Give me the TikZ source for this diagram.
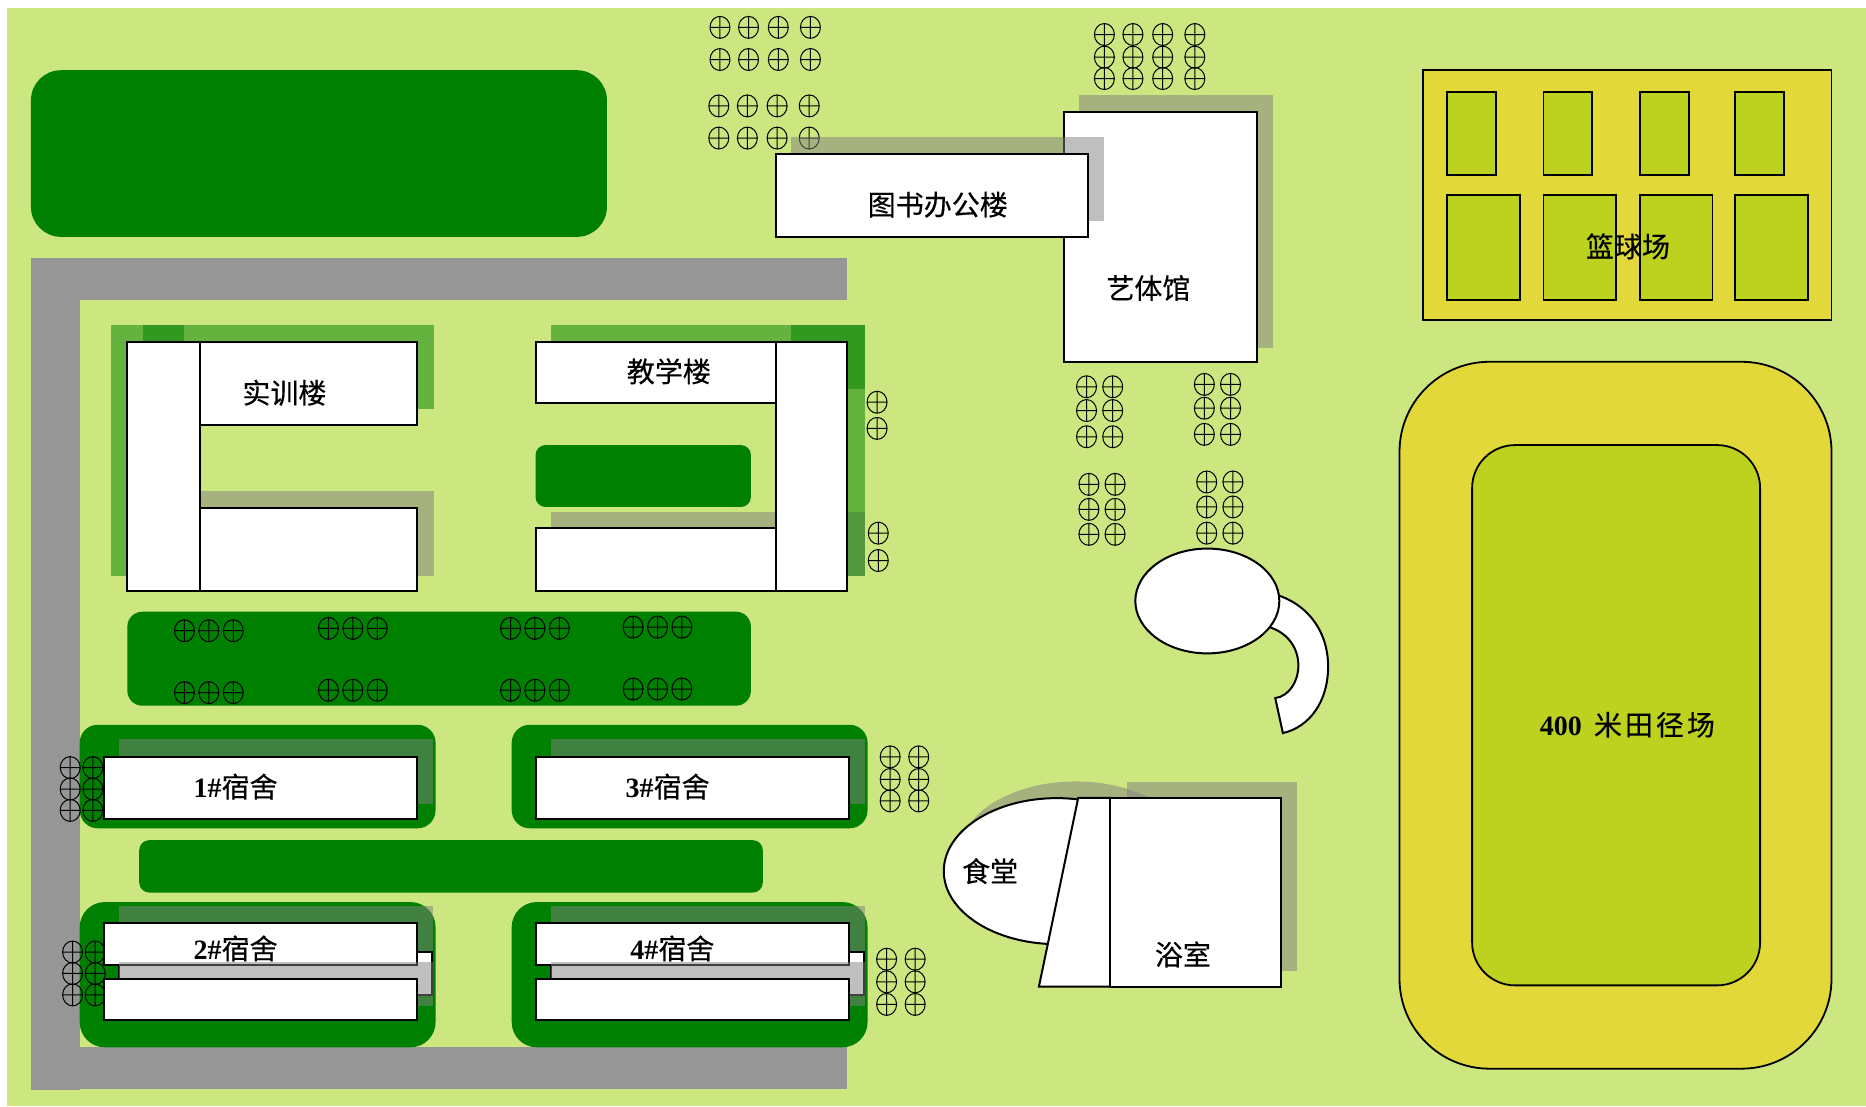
\documentclass[tikz,border=0pt]{standalone}
\usepackage{fontspec}
\setmainfont{Liberation Serif}
\newfontfamily\cjk[FakeBold=.35]{Noto Sans CJK SC}
\usetikzlibrary{positioning}

\definecolor{ground}{HTML}{CCE680}
\definecolor{lawn}{HTML}{008000}
\definecolor{road}{HTML}{969696}
\definecolor{court}{HTML}{E3D83A}
\definecolor{turf}{HTML}{BCD21E}

\tikzset{
	building/.style={draw=black,fill=white,line width=2pt},
	grass/.style={fill=lawn,rounded corners=#1},
	shade gray/.style={fill=black!50,fill opacity=.5},
	shade green/.style={fill=lawn,fill opacity=.5},
	field/.style={draw=black,line width=1.8pt},
	label/.style={font=\fontsize{28}{28}\selectfont\cjk,inner sep=0pt},
	treemark/.pic={
		\draw[line width=1pt] (0,0) ellipse [x radius=10pt,y radius=11pt]
		(-10pt,0) -- (10pt,0) (0,-11pt) -- (0,11pt);
	}
}

\begin{document}
\begin{tikzpicture}[x=1.19005pt,y=-1.19005pt]
	\useasboundingbox (0,0) rectangle (1568,929.4);
	\fill[ground] (6,7) rectangle (1568,929.4);

	% roads and lawns
	\fill[road] (26,217) rectangle (712,252);
	\fill[road] (26,217) rectangle (67,916);
	\fill[road] (67,880) rectangle (712,915);
	\fill[grass=30pt] (26,59) rectangle (510,199);
	\fill[grass=10pt] (450,374) rectangle (631,426);
	\fill[grass=15pt] (107,514) rectangle (631,593);
	\fill[grass=10pt] (117,706) rectangle (641,750);
	\fill[grass=18pt] (67,609) rectangle (366,696);
	\fill[grass=18pt] (430,609) rectangle (729,696);
	\fill[grass=25pt] (67,758) rectangle (366,880);
	\fill[grass=25pt] (430,758) rectangle (729,880);

	% trees
	\foreach \x in {605,629,654,681} {
		\foreach \y in {23,50} \pic at (\x,\y) {treemark};
	}
	\foreach \x in {604,628,653,680} {
		\foreach \y in {89,116} \pic at (\x,\y) {treemark};
	}
	\foreach \x in {928,952,977,1004} {
		\foreach \y in {29,48,66} \pic at (\x,\y) {treemark};
	}
	\foreach \x/\y in {913/325,913/345,913/367,935/325,935/345,935/367,
		1012/323,1012/343,1012/365,1034/323,1034/343,1034/365,
		915/407,915/428,915/449,937/407,937/428,937/449,
		1014/405,1014/426,1014/448,1036/405,1036/426,1036/448,
		737/338,737/360,738/448,738/471} \pic at (\x,\y) {treemark};
	\foreach \x/\y in {155/530,276/528,429/528,532/527} {
		\foreach \i in {0,20.5,41} {
			\pic at (\x+\i,\y) {treemark};
			\pic at (\x+\i,\y+52) {treemark};
		}
	}
	\foreach \x/\y in {59/645,59/663,59/681,78/645,78/663,78/681,
		61/800,61/818,61/836,80/800,80/818,80/836,
		748/636,748/655,748/673,772/636,772/655,772/673,
		745/806,745/825,745/844,769/806,769/825,769/844} \pic at (\x,\y) {treemark};

	% training building
	\fill[shade gray] (155,413) rectangle (365,484);
	\fill[shade green] (93,273) rectangle (155,484);
	\fill[shade green] (120,273) rectangle (365,344);
	\draw[building] (107,287) rectangle (168,497);
	\draw[building] (168,287) rectangle (350,357);
	\draw[building] (168,427) rectangle (350,497);

	% teaching building
	\fill[shade gray] (463,430) rectangle (727,484);
	\fill[shade green] (463,273) rectangle (727,327);
	\fill[shade green] (665,273) rectangle (727,484);
	\draw[building] (450,287) rectangle (652,339);
	\draw[building] (450,444) rectangle (652,497);
	\draw[building] (652,287) rectangle (712,497);

	% dormitories
	\foreach \dx in {0,363} {
		\begin{scope}[xshift=\dx*1.19005pt]
			\fill[shade gray] (100,621) rectangle (364,676);
			\draw[building] (87,636) rectangle (350,688);
			\fill[shade gray] (100,761) rectangle (364,800);
			\draw[building] (100,800) rectangle (363,836);
			\draw[building] (87,776) rectangle (350,811);
			\fill[shade gray] (100,808) rectangle (364,845);
			\draw[building] (87,823) rectangle (350,857);
		\end{scope}
	}

	% art hall and library
	\fill[shade gray] (907,80) rectangle (1070,292);
	\draw[building] (894,94) rectangle (1056,304);
	\fill[shade gray] (665,115) rectangle (928,186);
	\draw[building] (652,129) rectangle (914,199);

	% pond and bridge
	\draw[building] (1066,498) .. controls (1098,505) and (1116,530) .. (1116,560)
		.. controls (1116,590) and (1100,611) .. (1078,616) -- (1071.6,586.6)
		.. controls (1083,585) and (1091,573) .. (1091,559)
		.. controls (1091,543) and (1080,529) .. (1062,526) -- cycle;
	\draw[building] (1014.5,505) ellipse [x radius=72pt,y radius=52.4pt];

	% canteen and bathhouse
	\fill[shade gray] (947,657) rectangle (1090,816);
	\fill[shade gray] (904,718) ellipse [x radius=117pt,y radius=73pt];
	\draw[building] (888,732) ellipse [x radius=113pt,y radius=73pt];
	\draw[building] (906,670.5) -- (934,670.5) -- (934,829) -- (873,829) -- cycle;
	\draw[building] (933,670.5) rectangle (1076,829);

	% basketball courts
	\draw[field,fill=court] (1196,59) rectangle (1539,269);
	\foreach \x in {1216,1297,1378,1458} {
		\draw[field,fill=turf] (\x,77) rectangle (\x+41,147);
		\draw[field,fill=turf] (\x,164) rectangle (\x+61,252);
	}

	% running track
	\draw[field,fill=court,rounded corners=90pt] (1176,304) rectangle (1539,898);
	\draw[field,fill=turf,rounded corners=43pt] (1237,374) rectangle (1479,828);

	\node[label] (training) at (239,330) {实训楼};
	\node[label] (teaching) at (562,312) {教学楼};
	\node[label] (library) at (788,172) {图书办公楼};
	\node[label] (arthall) at (965,242) {艺体馆};
	\node[label] (basket) at (1368,207) {篮球场};
	\node[label] (dorm1) at (198,661) {{\rmfamily\bfseries 1\#}宿舍};
	\node[label] (dorm3) at (561,661) {{\rmfamily\bfseries 3\#}宿舍};
	\node[label] (dorm2) at (198,797) {{\rmfamily\bfseries 2\#}宿舍};
	\node[label] (dorm4) at (565,797) {{\rmfamily\bfseries 4\#}宿舍};
	\node[label] (canteen) at (832,732) {食堂};
	\node[label] (bath) at (994,802) {浴室};
	\node[label] (track) at (1367.5,609) {{\rmfamily\bfseries 400}\hspace{12pt}米\hspace{3pt}田\hspace{3pt}径\hspace{3pt}场};
\end{tikzpicture}
\end{document}
